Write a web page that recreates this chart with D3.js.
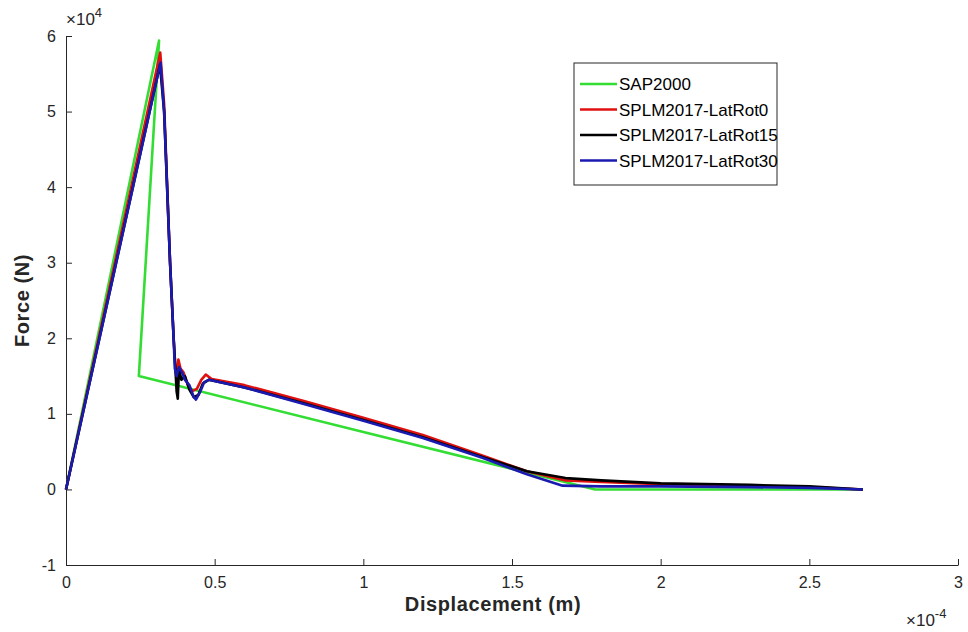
<!DOCTYPE html>
<html lang="en"><head>
<meta charset="utf-8">
<title>Force vs Displacement</title>
<script src="https://cdn.jsdelivr.net/npm/d3@7"></script>
<style>
body { margin: 0; background: #fff; }
text { font-family: "Liberation Sans", Arial, sans-serif; }
</style>
</head>
<body>
<script type="text/javascript">

var width = 968;
var height = 632;

// displacement in 1e-4 m, force in 1e4 N
var sapX = [0, 0.313, 0.245, 1.0, 1.78, 2.2, 2.68];
var sapY = [0, 5.94, 1.50, 0.76, 0.0, 0.0, 0.0];

var rot0X = [0, 0.317, 0.33, 0.35, 0.362, 0.368, 0.372, 0.378, 0.385, 0.395, 0.41, 0.425, 0.44, 0.455, 0.47, 0.49, 0.6, 0.8, 1.0, 1.2, 1.4, 1.55, 1.68, 1.8, 2.0, 2.3, 2.5, 2.68];
var rot0Y = [0, 5.78, 5.10, 3.00, 2.00, 1.60, 1.45, 1.72, 1.60, 1.55, 1.38, 1.30, 1.33, 1.45, 1.52, 1.46, 1.38, 1.17, 0.95, 0.72, 0.45, 0.24, 0.12, 0.10, 0.07, 0.05, 0.03, 0.0];

var rot15X = [0, 0.316, 0.33, 0.35, 0.362, 0.368, 0.372, 0.376, 0.38, 0.388, 0.40, 0.415, 0.43, 0.445, 0.46, 0.48, 0.6, 0.8, 1.0, 1.2, 1.4, 1.55, 1.68, 1.8, 2.0, 2.3, 2.5, 2.68];
var rot15Y = [0, 5.62, 5.00, 3.00, 2.00, 1.60, 1.30, 1.20, 1.60, 1.45, 1.50, 1.32, 1.22, 1.25, 1.40, 1.45, 1.35, 1.14, 0.92, 0.69, 0.43, 0.24, 0.15, 0.12, 0.08, 0.06, 0.04, 0.0];

var rot30X = [0, 0.318, 0.33, 0.35, 0.362, 0.366, 0.372, 0.38, 0.39, 0.40, 0.415, 0.43, 0.437, 0.45, 0.465, 0.48, 0.6, 0.8, 1.0, 1.2, 1.4, 1.55, 1.67, 1.8, 2.0, 2.3, 2.5, 2.68];
var rot30Y = [0, 5.65, 5.00, 3.00, 2.00, 1.60, 1.50, 1.62, 1.55, 1.45, 1.38, 1.22, 1.19, 1.28, 1.42, 1.45, 1.35, 1.13, 0.91, 0.68, 0.42, 0.20, 0.05, 0.04, 0.04, 0.03, 0.02, 0.0];

var seriesNames = ["SAP2000", "SPLM2017-LatRot0", "SPLM2017-LatRot15", "SPLM2017-LatRot30"];
var seriesColors = ["#33dd33", "#e01010", "#000000", "#1a1ab0"];
var seriesX = [sapX, rot0X, rot15X, rot30X];
var seriesY = [sapY, rot0Y, rot15Y, rot30Y];

var xTicks = [0, 0.5, 1, 1.5, 2, 2.5, 3];
var yTicks = [-1, 0, 1, 2, 3, 4, 5, 6];

var plotLeft = 66, plotRight = 958, plotTop = 36, plotBottom = 565;

var x = d3.scaleLinear().domain([0, 3]).range([plotLeft, plotRight]);
var y = d3.scaleLinear().domain([-1, 6]).range([plotBottom, plotTop]);

var svg = d3.select("body").append("svg")
            .attr("width", width)
            .attr("height", height);

var fmt = function(d){ return String(d); };

// axes (MATLAB style: ticks inside)
var xAxis = d3.axisBottom(x).tickValues(xTicks).tickSizeInner(-6).tickSizeOuter(0)
              .tickFormat(fmt).tickPadding(12);
var yAxis = d3.axisLeft(y).tickValues(yTicks).tickSizeInner(-6).tickSizeOuter(0)
              .tickFormat(fmt).tickPadding(10);

var gx = svg.append("g").attr("transform", "translate(0," + plotBottom + ")").call(xAxis);
var gy = svg.append("g").attr("transform", "translate(" + plotLeft + ",0)").call(yAxis);

[gx, gy].forEach(function(g){
    g.select(".domain").attr("stroke", "#262626").attr("stroke-width", 1);
    g.selectAll(".tick line").attr("stroke", "#262626");
    g.selectAll(".tick text").attr("fill", "#262626").style("font-size", "16px")
        .style("font-family", "'Liberation Sans', Arial, sans-serif");
});

// lines
var line = d3.line();
seriesNames.forEach(function(name, i){
    var pts = seriesX[i].map(function(v, j){ return [x(v), y(seriesY[i][j])]; });
    svg.append("path")
        .attr("d", line(pts))
        .attr("fill", "none")
        .attr("stroke", seriesColors[i])
        .attr("stroke-width", 2.6)
        .attr("stroke-linejoin", "round");
});

// exponent labels
var e1 = svg.append("text").attr("x", 66).attr("y", 25).attr("fill", "#262626").style("font-size", "17px");
e1.append("tspan").text("\u00d710");
e1.append("tspan").attr("dy", -8).style("font-size", "13px").text("4");

var e2 = svg.append("text").attr("x", 906).attr("y", 626).attr("fill", "#262626").style("font-size", "17px");
e2.append("tspan").text("\u00d710");
e2.append("tspan").attr("dy", -8).style("font-size", "13px").text("-4");

// axis titles
svg.append("text")
    .attr("x", 493).attr("y", 611)
    .attr("text-anchor", "middle")
    .attr("fill", "#262626")
    .style("font-size", "20px").style("font-weight", "bold").style("letter-spacing", "0.6px")
    .text("Displacement (m)");

svg.append("text")
    .attr("transform", "translate(29," + y(2.5) + ") rotate(-90)")
    .attr("text-anchor", "middle")
    .attr("fill", "#262626")
    .style("font-size", "20px").style("font-weight", "bold").style("letter-spacing", "0.6px")
    .text("Force (N)");

// legend
var legend = svg.append("g").attr("transform", "translate(574,63)");
legend.append("rect")
    .attr("width", 203).attr("height", 122)
    .attr("fill", "#fff").attr("stroke", "#262626").attr("stroke-width", 1);

seriesNames.forEach(function(name, i){
    var ly = 21 + i * 25.5;
    legend.append("line")
        .attr("x1", 6).attr("x2", 43).attr("y1", ly).attr("y2", ly)
        .attr("stroke", seriesColors[i]).attr("stroke-width", 2.6);
    legend.append("text")
        .attr("x", 45).attr("y", ly + 6)
        .attr("fill", "#000")
        .style("font-size", "17px")
        .text(name);
});

</script>
</body></html>
